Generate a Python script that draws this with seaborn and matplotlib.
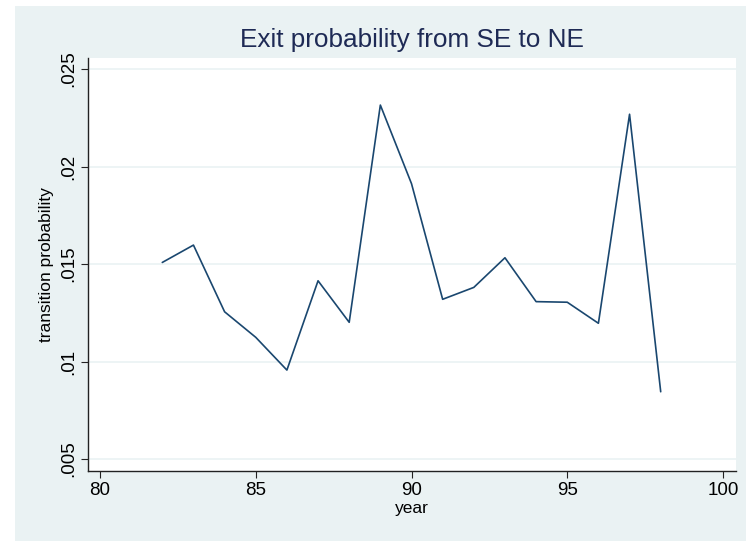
import matplotlib
matplotlib.use("Agg")
import matplotlib.pyplot as plt
import seaborn as sns
import pandas as pd
from matplotlib.patches import Rectangle
from matplotlib.ticker import FuncFormatter

# values
years = [82, 83, 84, 85, 86, 87, 88, 89, 90, 91, 92, 93, 94, 95, 96, 97, 98]
prob = [0.01508, 0.01597, 0.01255, 0.01124, 0.00956, 0.01414, 0.01201, 0.02315,
        0.01912, 0.01319, 0.01380, 0.01532, 0.01307, 0.01304, 0.01196, 0.02268, 0.00845]
xticks = [80, 85, 90, 95, 100]
yticks = [0.005, 0.01, 0.015, 0.02, 0.025]

df = pd.DataFrame({"year": years, "prob": prob})

sns.set_theme(style="white")
plt.rcParams['font.family'] = ['Liberation Sans', 'DejaVu Sans']

bg = "#EAF2F3"
navy = "#1A476F"

fig = plt.figure(figsize=(7.46, 5.41), dpi=100)
fig.patch.set_facecolor("white")
# stata-like outer background, white strip on the left and top
fig.patches.append(Rectangle((15 / 746, 0), 1 - 15 / 746, 1 - 6 / 541,
                             transform=fig.transFigure, facecolor=bg,
                             edgecolor="none", zorder=-10))

ax = fig.add_axes([88 / 746, 1 - 471 / 541, (736 - 88) / 746, (471 - 58) / 541])
ax.set_facecolor("white")

sns.lineplot(data=df, x="year", y="prob", ax=ax, color=navy, linewidth=1.2)

ax.set_xlim(79.615, 100.417)
ax.set_ylim(0.004385, 0.025564)
ax.set_xticks(xticks)
ax.set_yticks(yticks)
ax.yaxis.set_major_formatter(FuncFormatter(lambda v, p: ("%g" % v).lstrip("0")))
ax.grid(axis="y", color=bg, linewidth=1.2)
ax.set_axisbelow(True)

for s in ["top", "right"]:
    ax.spines[s].set_visible(False)
for s in ["left", "bottom"]:
    ax.spines[s].set_color("#222222")
    ax.spines[s].set_linewidth(1.0)

ax.tick_params(axis="both", direction="out", length=5, width=0.8, color="#222222",
               labelsize=13.5, labelcolor="black", bottom=True, left=True, pad=3)
for lab in ax.get_yticklabels():
    lab.set_rotation(90)
    lab.set_va("center")

ax.set_xlabel("year", fontsize=12.5, color="black", labelpad=1)
ax.set_ylabel("transition probability", fontsize=12.5, color="black", labelpad=4)

ax.set_title("Exit probability from SE to NE", fontsize=18.8, color="#1E2A55", pad=8)

fig.savefig("out.png", dpi=100, facecolor=fig.get_facecolor())
